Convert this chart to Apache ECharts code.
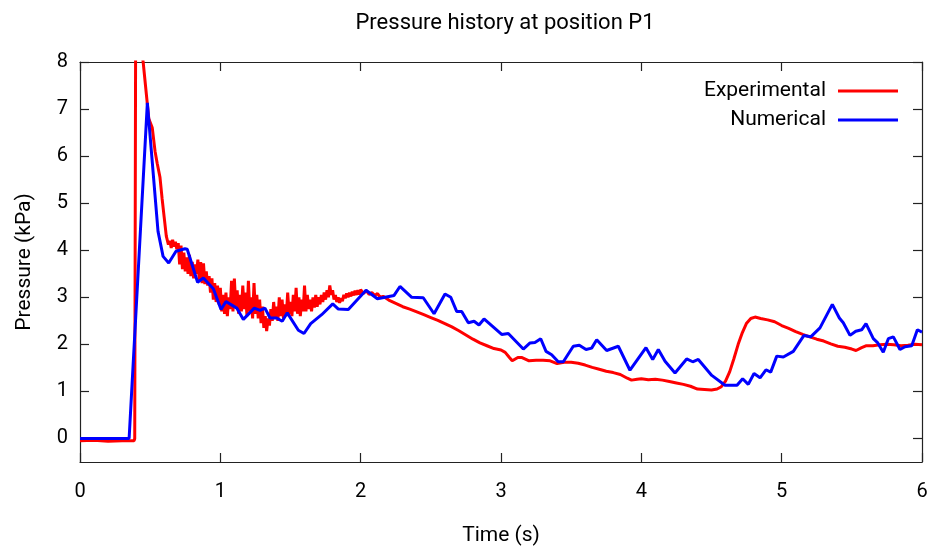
<!DOCTYPE html>
<html><head><meta charset="utf-8">
<script src="https://cdn.jsdelivr.net/npm/echarts@6/dist/echarts.min.js"></script>
<style>html,body{margin:0;padding:0;background:#fff}#c{width:933px;height:552px}</style>
</head><body><div id="c"></div>
<script>
const titleText = 'Pressure history at position P1';
const xName = 'Time (s)';
const yName = 'Pressure (kPa)';
const xTicks = [0,1,2,3,4,5,6];
const yTicks = [0,1,2,3,4,5,6,7,8];
const seriesNames = ['Experimental','Numerical'];

const experimental = [
[0,-0.05],[0.1,-0.04],[0.2,-0.06],[0.3,-0.05],[0.385,-0.05],[0.39,0.0],[0.397,9.3],
[0.45,8.0],[0.49,6.8],[0.50,6.72],[0.515,6.6],[0.535,6.1],[0.55,5.85],[0.57,5.55],[0.585,5.1],[0.60,4.7],[0.615,4.3],[0.63,4.12],
[0.64,4.20],[0.65,4.05],[0.66,4.22],[0.67,4.08],[0.68,4.18],[0.69,4.02],[0.70,4.15],[0.71,3.70],[0.72,4.10],[0.73,3.60],[0.74,3.95],[0.75,3.55],
[0.76,3.85],[0.77,3.50],[0.78,3.90],[0.79,3.45],[0.80,3.75],[0.81,3.40],[0.82,3.70],[0.83,3.50],[0.84,3.80],[0.85,3.35],
[0.86,3.75],[0.87,3.30],[0.88,3.72],[0.89,3.28],[0.90,3.55],[0.91,3.25],[0.92,3.45],[0.93,3.10],[0.94,3.40],[0.95,2.95],
[0.96,3.30],[0.97,2.90],[0.98,3.25],[0.99,2.85],[1.00,3.20],[1.01,2.70],[1.02,3.05],[1.03,2.65],[1.04,3.10],[1.05,2.60],
[1.06,3.00],[1.07,2.75],[1.08,3.35],[1.09,2.70],[1.10,3.40],[1.11,2.80],[1.12,3.15],[1.13,2.65],[1.14,3.05],[1.15,2.70],
[1.16,3.25],[1.17,2.75],[1.18,3.10],[1.19,2.60],[1.20,3.35],[1.21,2.70],[1.22,3.00],[1.23,2.55],[1.24,3.30],[1.25,2.65],
[1.26,3.05],[1.27,2.55],[1.28,2.95],[1.29,2.45],[1.30,2.80],[1.31,2.35],[1.32,2.60],[1.33,2.28],[1.34,2.55],[1.35,2.40],
[1.36,2.75],[1.37,2.50],[1.38,2.90],[1.39,2.55],[1.40,2.80],[1.41,2.50],[1.42,3.00],[1.43,2.60],[1.44,2.95],[1.45,2.55],
[1.46,2.85],[1.47,2.60],[1.48,3.10],[1.49,2.65],[1.50,2.90],[1.51,2.60],[1.52,3.05],[1.53,2.70],[1.54,3.20],[1.55,2.65],
[1.56,3.00],[1.57,2.60],[1.58,2.95],[1.59,2.70],[1.60,3.25],[1.61,2.70],[1.62,3.05],[1.63,2.75],[1.64,2.95],[1.65,2.70],
[1.66,3.00],[1.67,2.78],[1.68,3.05],[1.69,2.80],[1.70,3.00],[1.71,2.85],[1.72,3.05],[1.73,2.90],[1.74,3.10],[1.75,2.95],
[1.76,3.15],[1.77,3.00],[1.78,3.25],[1.79,3.05],[1.80,3.15],[1.81,2.95],[1.82,3.05],[1.83,2.90],[1.84,3.00],[1.85,2.88],
[1.86,2.98],[1.87,2.92],[1.88,3.05],[1.89,2.98],[1.90,3.08],[1.91,3.00],[1.92,3.10],[1.93,3.02],[1.94,3.12],[1.95,3.04],
[1.96,3.14],[1.97,3.05],[1.98,3.15],[1.99,3.06],[2.00,3.16],[2.02,3.08],[2.04,3.14],[2.06,3.06],[2.08,3.10],[2.10,3.04],
[2.12,3.08],[2.14,3.00],[2.16,3.02],[2.20,2.94],[2.25,2.87],[2.30,2.80],[2.35,2.75],[2.40,2.69],[2.45,2.63],[2.50,2.57],
[2.55,2.51],[2.60,2.44],[2.65,2.37],[2.70,2.29],[2.75,2.20],[2.80,2.11],[2.85,2.03],[2.90,1.97],[2.95,1.91],[3.00,1.88],
[3.03,1.83],[3.06,1.72],[3.08,1.65],[3.12,1.72],[3.15,1.72],[3.20,1.65],[3.25,1.66],[3.30,1.66],[3.35,1.65],[3.40,1.59],
[3.45,1.62],[3.50,1.62],[3.55,1.60],[3.60,1.56],[3.65,1.51],[3.70,1.47],[3.75,1.43],[3.80,1.40],[3.85,1.36],[3.90,1.28],
[3.93,1.24],[3.97,1.26],[4.00,1.27],[4.05,1.25],[4.10,1.26],[4.15,1.24],[4.20,1.21],[4.25,1.18],[4.30,1.15],[4.35,1.11],
[4.40,1.05],[4.45,1.04],[4.50,1.03],[4.54,1.05],[4.57,1.10],[4.60,1.22],[4.63,1.42],[4.66,1.70],[4.69,2.00],[4.72,2.25],
[4.75,2.45],[4.78,2.55],[4.81,2.58],[4.85,2.55],[4.90,2.52],[4.95,2.48],[5.00,2.40],[5.05,2.34],[5.10,2.27],[5.15,2.21],
[5.20,2.16],[5.25,2.11],[5.30,2.07],[5.35,2.01],[5.40,1.96],[5.45,1.94],[5.50,1.90],[5.53,1.87],[5.57,1.93],[5.60,1.97],
[5.65,1.97],[5.70,1.99],[5.75,2.00],[5.80,1.99],[5.85,1.97],[5.90,1.98],[5.95,2.00],[6.00,1.99]
];

const numerical = [
[0,0],[0.35,0],[0.48,7.13],[0.556,4.4],[0.592,3.87],[0.632,3.73],[0.684,3.98],[0.748,4.03],[0.764,4.02],[0.838,3.32],
[0.879,3.41],[0.95,3.18],[1.005,2.74],[1.040,2.91],[1.117,2.77],[1.164,2.53],[1.242,2.77],[1.283,2.72],[1.318,2.77],[1.354,2.56],
[1.402,2.56],[1.441,2.49],[1.477,2.67],[1.556,2.30],[1.596,2.23],[1.644,2.44],[1.722,2.63],[1.801,2.86],[1.841,2.75],[1.912,2.74],
[2.038,3.15],[2.119,2.97],[2.238,3.04],[2.280,3.23],[2.364,3.00],[2.446,2.99],[2.523,2.65],[2.601,3.07],[2.642,3.00],[2.684,2.70],
[2.720,2.70],[2.767,2.46],[2.808,2.49],[2.843,2.41],[2.879,2.54],[3.005,2.21],[3.052,2.23],[3.159,1.90],[3.207,2.03],[3.242,2.04],
[3.283,2.12],[3.321,1.85],[3.361,1.78],[3.408,1.63],[3.444,1.63],[3.515,1.96],[3.558,1.98],[3.606,1.89],[3.646,1.92],[3.682,2.10],
[3.753,1.87],[3.836,1.96],[3.919,1.45],[4.033,1.93],[4.081,1.68],[4.121,1.89],[4.169,1.64],[4.240,1.39],[4.323,1.69],[4.366,1.63],
[4.406,1.68],[4.502,1.34],[4.596,1.13],[4.682,1.13],[4.722,1.27],[4.762,1.15],[4.803,1.38],[4.846,1.29],[4.888,1.46],[4.922,1.41],
[4.965,1.75],[5.012,1.73],[5.083,1.85],[5.159,2.19],[5.207,2.16],[5.273,2.35],[5.361,2.85],[5.411,2.56],[5.439,2.46],[5.487,2.19],
[5.528,2.28],[5.570,2.31],[5.601,2.44],[5.653,2.12],[5.685,2.03],[5.724,1.83],[5.760,2.12],[5.796,2.16],[5.843,1.89],[5.879,1.95],
[5.927,1.97],[5.967,2.31],[6.0,2.26]
];

const chart = echarts.init(document.getElementById('c'));
const font = 'Roboto, "DejaVu Sans", sans-serif';
const axisLine = {show:true, onZero:false, lineStyle:{color:'#222', width:1.2}};
const tick = {show:true, inside:true, length:9, lineStyle:{color:'#222', width:1.2}};
chart.setOption({
  animation:false,
  backgroundColor:'#fff',
  textStyle:{fontFamily:font},
  title:{text:titleText, left:500, textAlign:'center', top:7, textStyle:{fontSize:22, fontWeight:'normal', color:'#000', fontFamily:font}},
  grid:{left:80, right:11, top:62, bottom:90},
  legend:{
    data:seriesNames, orient:'vertical', align:'right', right:30, top:75,
    itemWidth:60, itemHeight:3, icon:'rect', itemGap:7,
    textStyle:{fontSize:21, color:'#000', fontFamily:font, lineHeight:22, padding:[0,7,0,0]}
  },
  xAxis:[
    {type:'value', min:0, max:6, position:'bottom', name:xName, nameLocation:'middle', nameGap:63,
     nameTextStyle:{fontSize:21, color:'#000', fontFamily:font},
     axisLine, axisTick:{...tick, customValues:xTicks}, splitLine:{show:false},
     axisLabel:{customValues:xTicks, fontSize:20, color:'#000', margin:20, fontFamily:font}},
    {type:'value', min:0, max:6, position:'top', axisLine, axisTick:{...tick, customValues:xTicks},
     splitLine:{show:false}, axisLabel:{show:false}}
  ],
  yAxis:[
    {type:'value', min:-0.5, max:8, position:'left', name:yName, nameLocation:'middle', nameGap:45,
     nameTextStyle:{fontSize:21, color:'#000', fontFamily:font},
     axisLine, axisTick:{...tick, customValues:yTicks}, splitLine:{show:false},
     axisLabel:{customValues:yTicks, fontSize:20, color:'#000', margin:12, fontFamily:font}},
    {type:'value', min:-0.5, max:8, position:'right', axisLine, axisTick:{...tick, customValues:yTicks},
     splitLine:{show:false}, axisLabel:{show:false}}
  ],
  series:[
    {name:seriesNames[0], type:'line', data:experimental, showSymbol:false, symbol:'none', clip:true,
     lineStyle:{color:'#ff0000', width:3}, itemStyle:{color:'#ff0000'}, z:2},
    {name:seriesNames[1], type:'line', data:numerical, showSymbol:false, symbol:'none', clip:true,
     lineStyle:{color:'#0000ff', width:3}, itemStyle:{color:'#0000ff'}, z:3}
  ]
});
</script></body></html>
